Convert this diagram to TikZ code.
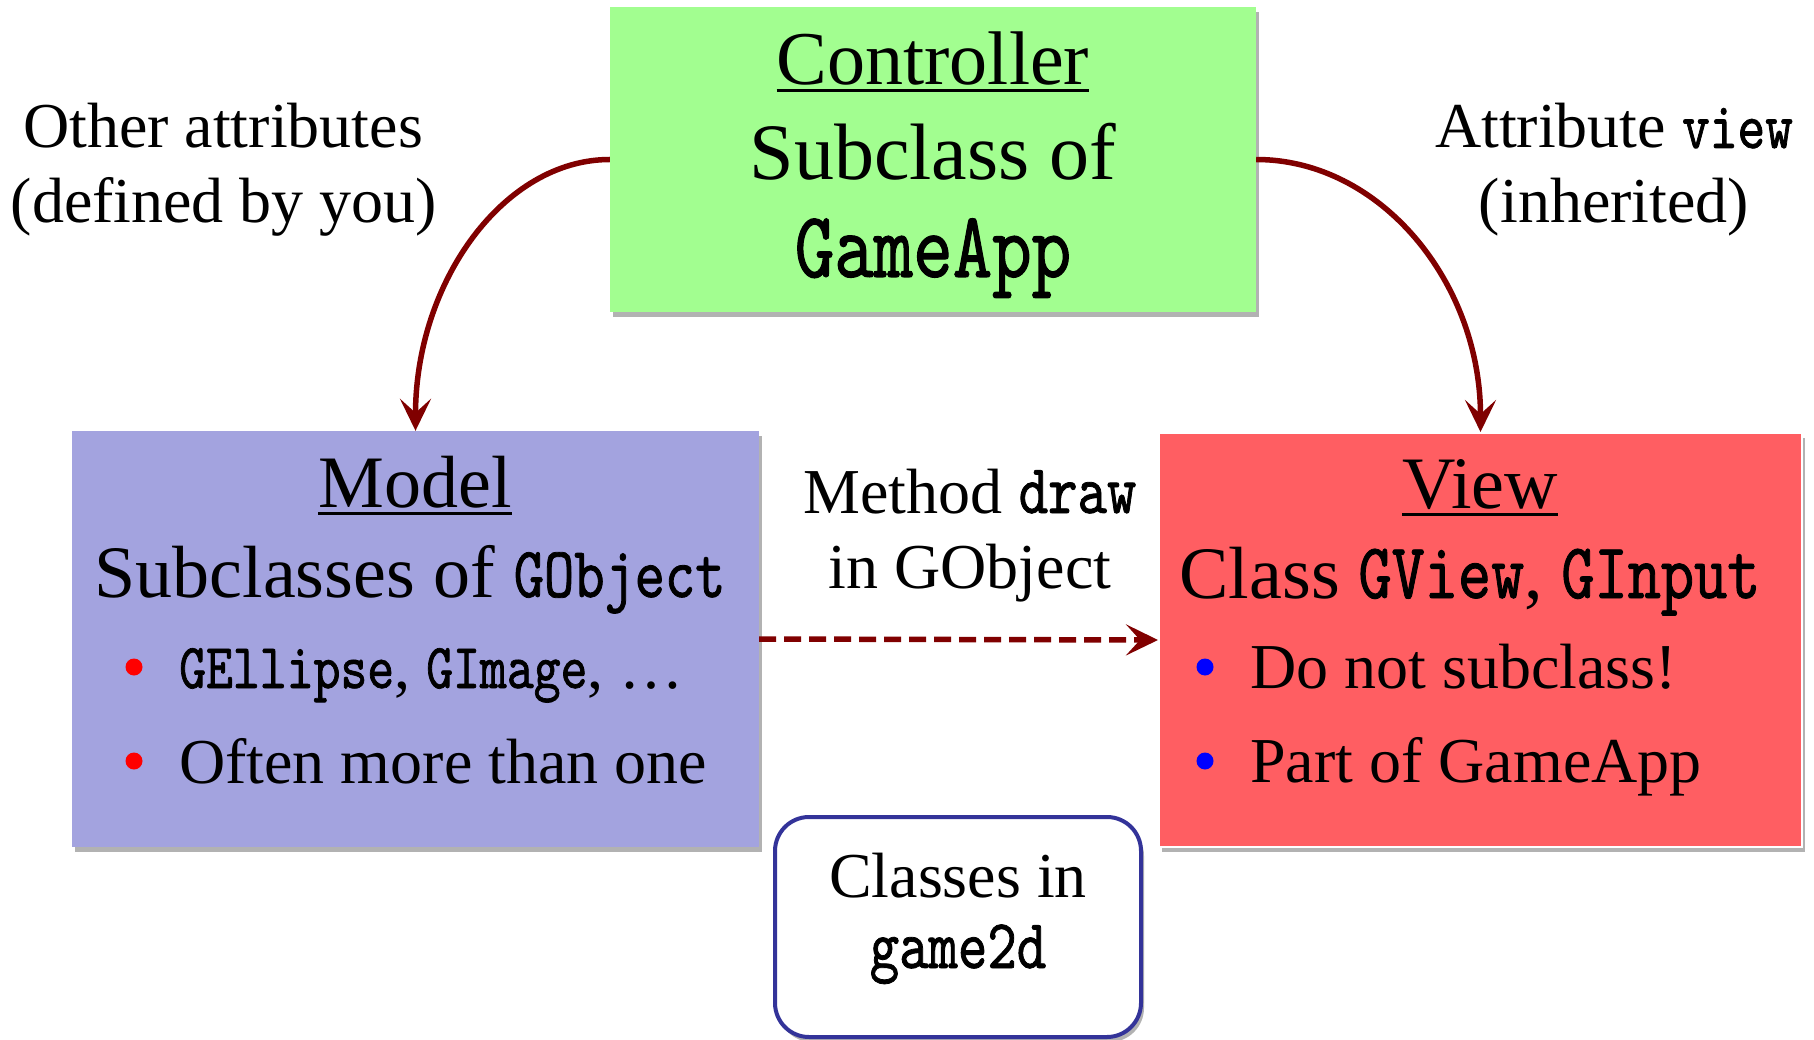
\documentclass[tikz,border=0pt]{standalone}
\usepackage{fontspec}
\setmainfont{Liberation Serif}
\newfontfamily\cf{lmmono10-regular}[Extension=.otf,FakeStretch=0.8,FakeBold=1.1]
\usetikzlibrary{arrows.meta,shadows}
\definecolor{ctrlgreen}{HTML}{A2FE90}
\definecolor{modelblue}{HTML}{A3A3DF}
\definecolor{viewred}{HTML}{FF5E62}
\definecolor{arrowred}{HTML}{800000}
\definecolor{boxblue}{HTML}{333399}
\newcommand\setsz[1]{\fontsize{#1}{#1}\selectfont}
\newcommand\codetxt[2]{{\cf\fontsize{#1}{#1}\selectfont #2}}
\tikzset{
  box/.style={rectangle, inner sep=0pt, draw=none,
    drop shadow={shadow xshift=3pt, shadow yshift=-5pt, opacity=0.3, fill=black}},
  txt/.style={inner sep=0pt, anchor=base},
  ltxt/.style={inner sep=0pt, anchor=base west},
  dot/.style={circle, inner sep=0pt, minimum size=17pt, draw=none},
  conn/.style={draw=arrowred, line width=5.5pt,
    -{Stealth[length=32pt,width=31pt,inset=14pt]}},
  uline/.style={line width=3pt},
}
\begin{document}
\begin{tikzpicture}[x=1pt,y=1pt]
\useasboundingbox (0,-1040) rectangle (1814,0);
% boxes
\node[box, fill=ctrlgreen, minimum width=646pt, minimum height=305pt] (ctrl) at (933,-159.5) {};
\node[box, fill=modelblue, minimum width=687pt, minimum height=416pt] (model) at (415.5,-639) {};
\node[box, fill=viewred, draw=white, line width=2pt, minimum width=643pt, minimum height=414pt] (view) at (1480.5,-640) {};
\node[box, fill=white, draw=boxblue, line width=4pt, rounded corners=34pt, minimum width=366pt, minimum height=220pt] (cls) at (958,-927) {};
% controller text
\node[txt] (ctitle) at (933,-85) {\setsz{76}Controller};
\draw[uline] ([yshift=-6pt]ctitle.base west) -- ([yshift=-6pt]ctitle.base east);
\node[txt] (csub) at (933,-180) {\setsz{80}Subclass of};
\node[txt] (capp) at (933,-277) {\codetxt{94}{GameApp}};
% model text
\node[txt] (mtitle) at (415,-507) {\setsz{74}Model};
\draw[uline] ([yshift=-6pt]mtitle.base west) -- ([yshift=-6pt]mtitle.base east);
\node[txt] (msub) at (410,-597) {\setsz{74}Subclasses of \codetxt{72}{GObject}};
\node[dot, fill=red] (mdot1) at (134,-667) {};
\node[ltxt] (mi1) at (179,-688) {\setsz{64}\codetxt{64}{GEllipse}, \codetxt{64}{GImage}, …};
\node[dot, fill=red] (mdot2) at (134,-761) {};
\node[ltxt] (mi2) at (179,-783) {\setsz{64}Often more than one};
% view text
\node[txt] (vtitle) at (1480,-508) {\setsz{74}View};
\draw[uline] ([yshift=-6pt]vtitle.base west) -- ([yshift=-6pt]vtitle.base east);
\node[txt] (vsub) at (1470,-598) {\setsz{74}Class \codetxt{79}{GView}, \codetxt{79}{GInput}};
\node[dot, fill=blue] (vdot1) at (1205,-667) {};
\node[ltxt] (vi1) at (1250,-688) {\setsz{64}Do not subclass!};
\node[dot, fill=blue] (vdot2) at (1205,-761) {};
\node[ltxt] (vi2) at (1250,-782) {\setsz{64}Part of GameApp};
% labels
\node[txt] (lo1) at (223,-148) {\setsz{64}Other attributes};
\node[txt] (lo2) at (224,-223) {\setsz{64}(defined by you)};
\node[txt] (la1) at (1614,-148) {\setsz{64}Attribute \codetxt{66}{view}};
\node[txt] (la2) at (1614,-223) {\setsz{64}(inherited)};
\node[txt] (lm1) at (970,-513) {\setsz{64}Method \codetxt{70}{draw}};
\node[txt] (lm2) at (970,-588) {\setsz{64}in GObject};
\node[txt] (cl1) at (958,-897) {\setsz{64}Classes in};
\node[txt] (cl2) at (958,-968) {\codetxt{70}{game2d}};
% connectors
\draw[conn] (ctrl.west) to[out=180,in=90,out distance=106pt,in distance=149pt] (model.north);
\draw[conn] (ctrl.east) to[out=0,in=90,out distance=124pt,in distance=150pt] (view.north);
\draw[conn, dash pattern=on 17pt off 8pt] (model.east) -- (view.west);
\end{tikzpicture}
\end{document}
